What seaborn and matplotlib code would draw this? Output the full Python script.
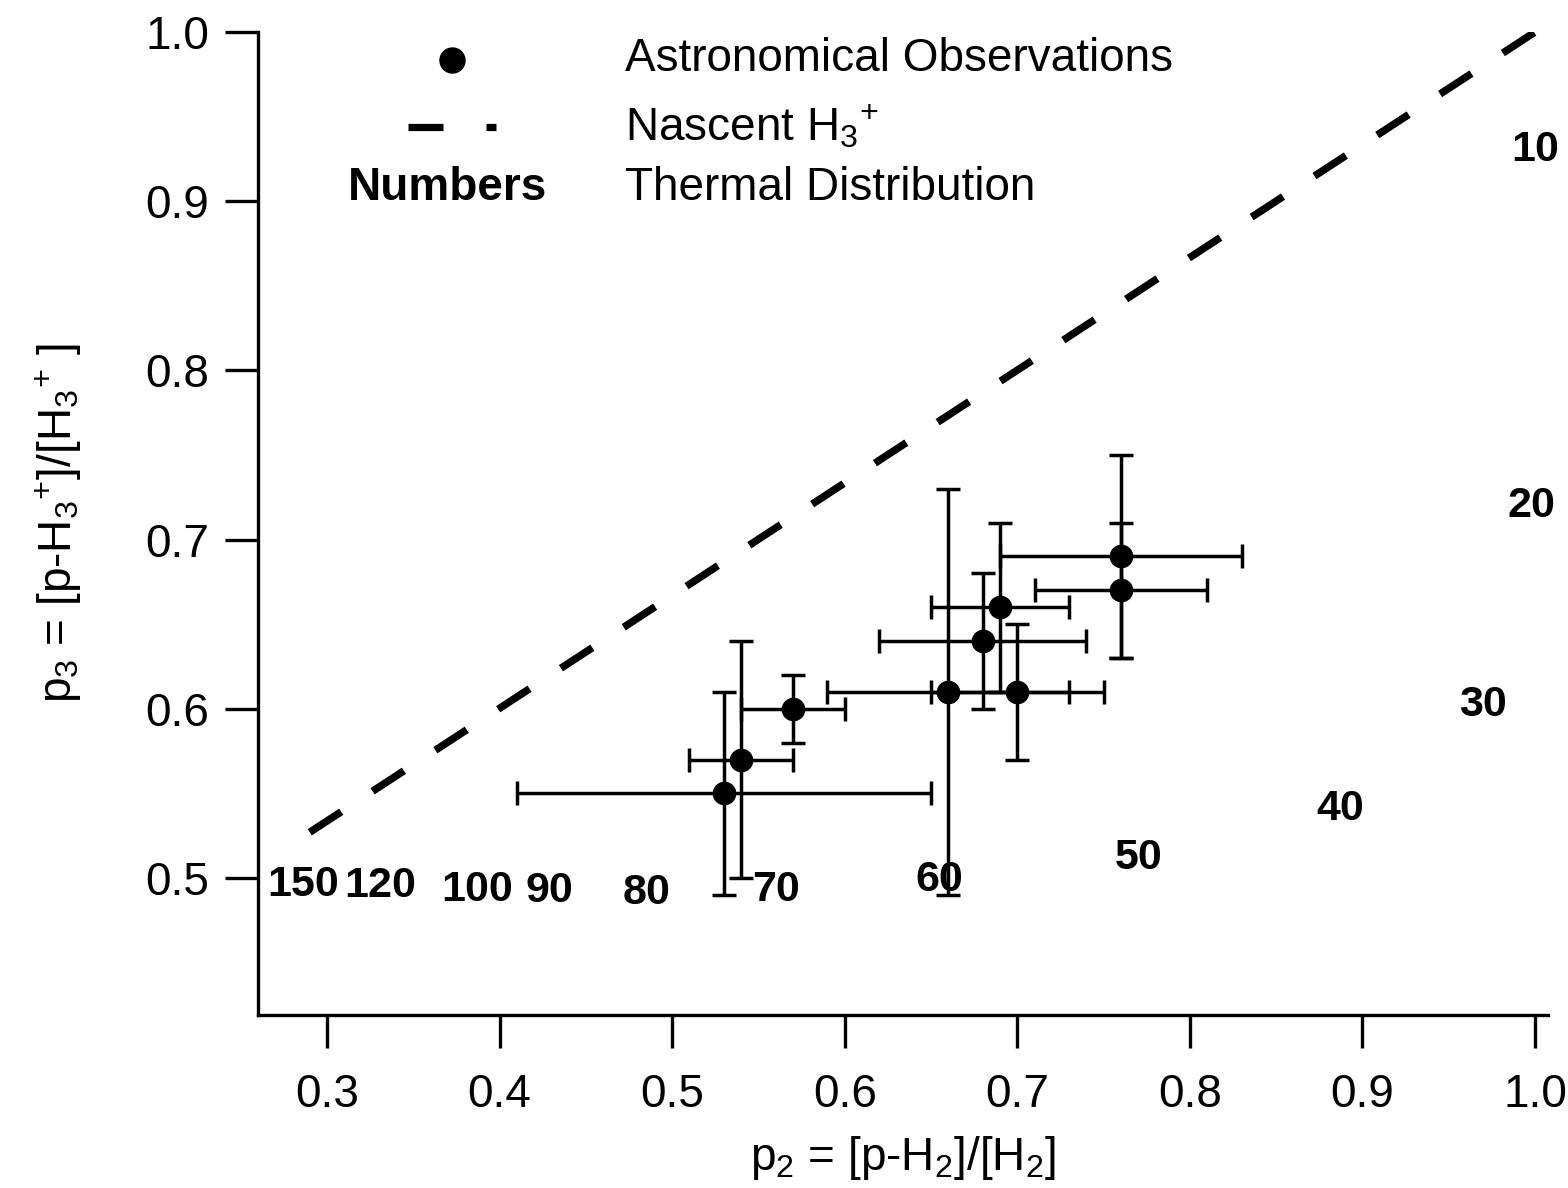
import matplotlib
matplotlib.use("Agg")
import matplotlib.pyplot as plt
import seaborn as sns
import pandas as pd
import numpy as np

# ---- data ----
obs_p2 = [0.53, 0.54, 0.57, 0.66, 0.68, 0.69, 0.70, 0.76, 0.76]
obs_p3 = [0.55, 0.57, 0.60, 0.61, 0.64, 0.66, 0.61, 0.69, 0.67]
obs_p2_err = [0.12, 0.03, 0.03, 0.07, 0.06, 0.04, 0.05, 0.07, 0.05]
obs_p3_err = [0.06, 0.07, 0.02, 0.12, 0.04, 0.05, 0.04, 0.06, 0.04]

nascent_p2 = [0.29, 1.0]
nascent_p3 = [0.527, 1.0]

thermal_T = [10, 20, 30, 40, 50, 60, 70, 80, 90, 100, 120, 150]
thermal_p2 = [1.0, 0.998, 0.970, 0.887, 0.770, 0.655, 0.560, 0.485, 0.429, 0.387, 0.331, 0.286]
thermal_p3 = [0.930, 0.720, 0.602, 0.541, 0.512, 0.499, 0.493, 0.491, 0.492, 0.493, 0.495, 0.496]

x_ticks = [0.3, 0.4, 0.5, 0.6, 0.7, 0.8, 0.9, 1.0]
y_ticks = [0.5, 0.6, 0.7, 0.8, 0.9, 1.0]

# ---- style ----
sns.set_theme(style="ticks")
plt.rcParams['font.family'] = ['Liberation Sans', 'DejaVu Sans']
plt.rcParams['mathtext.fontset'] = 'custom'
plt.rcParams['mathtext.rm'] = 'Liberation Sans'
plt.rcParams['mathtext.it'] = 'Liberation Sans'
plt.rcParams['mathtext.bf'] = 'Liberation Sans:bold'
plt.rcParams['text.color'] = 'black'
plt.rcParams['axes.labelcolor'] = 'black'

fig = plt.figure(figsize=(15.68, 11.88), dpi=100)
ax = fig.add_axes([258/1568, (1188-1015)/1188, (1548-258)/1568, (1015-32)/1188])

obs = pd.DataFrame({"p2": obs_p2, "p3": obs_p3})
nas = pd.DataFrame({"p2": nascent_p2, "p3": nascent_p3})

ax.errorbar(obs_p2, obs_p3, xerr=obs_p2_err, yerr=obs_p3_err, fmt='none',
            ecolor='black', elinewidth=2.5, capsize=8.5, capthick=2.5, zorder=2)
sns.scatterplot(data=obs, x="p2", y="p3", ax=ax, color='black', s=290,
                edgecolor='black', linewidth=0, zorder=3, legend=False)
sns.lineplot(data=nas, x="p2", y="p3", ax=ax, color='black', linewidth=5.4,
             zorder=2, legend=False)
ax.lines[-1].set_dashes((5, 5))
ax.lines[-1].set_dash_capstyle('butt')

for T, x, y in zip(thermal_T, thermal_p2, thermal_p3):
    ax.text(x, y, str(T), ha='center', va='center', fontsize=31,
            fontweight='bold', color='black', zorder=4)

ax.set_xlim(0.26, 1.0075)
ax.set_ylim(0.419, 1.0)
ax.set_xticks(x_ticks)
ax.set_yticks(y_ticks)
ax.set_xticklabels([f"{t:.1f}" for t in x_ticks])
ax.set_yticklabels([f"{t:.1f}" for t in y_ticks])
ax.tick_params(axis='both', direction='out', length=24, width=2.4,
               labelsize=33, colors='black')
ax.tick_params(axis='x', pad=18)
ax.tick_params(axis='y', pad=11)
for s in ['top', 'right']:
    ax.spines[s].set_visible(False)
for s in ['left', 'bottom']:
    ax.spines[s].set_linewidth(2.4)
    ax.spines[s].set_color('black')

ax.set_xlabel(r'p$_2$ = [p-H$_2$]/[H$_2$]', fontsize=33, labelpad=12)
ax.set_ylabel(r'p$_3$ = [p-H$_3{}^{+}$]/[H$_3{}^{+}$ ]', fontsize=33, labelpad=44)

# ---- manual legend ----
ax.plot([0.3724], [0.9835], 'o', color='black', markersize=18)
ax.plot([0.347, 0.367], [0.944, 0.944], color='black', linewidth=5.2,
        solid_capstyle='butt')
ax.plot([0.392, 0.398], [0.944, 0.944], color='black', linewidth=5.2,
        solid_capstyle='butt')
ax.text(0.370, 0.908, 'Numbers', ha='center', va='center', fontsize=33,
        fontweight='bold')
ax.text(0.4727, 0.984, 'Astronomical Observations', ha='left', va='center', fontsize=33)
ax.text(0.4727, 0.944, r'Nascent H$_3{}^{+}$', ha='left', va='center', fontsize=33)
ax.text(0.4727, 0.908, 'Thermal Distribution', ha='left', va='center', fontsize=33)

fig.savefig("out.png", dpi=100)
